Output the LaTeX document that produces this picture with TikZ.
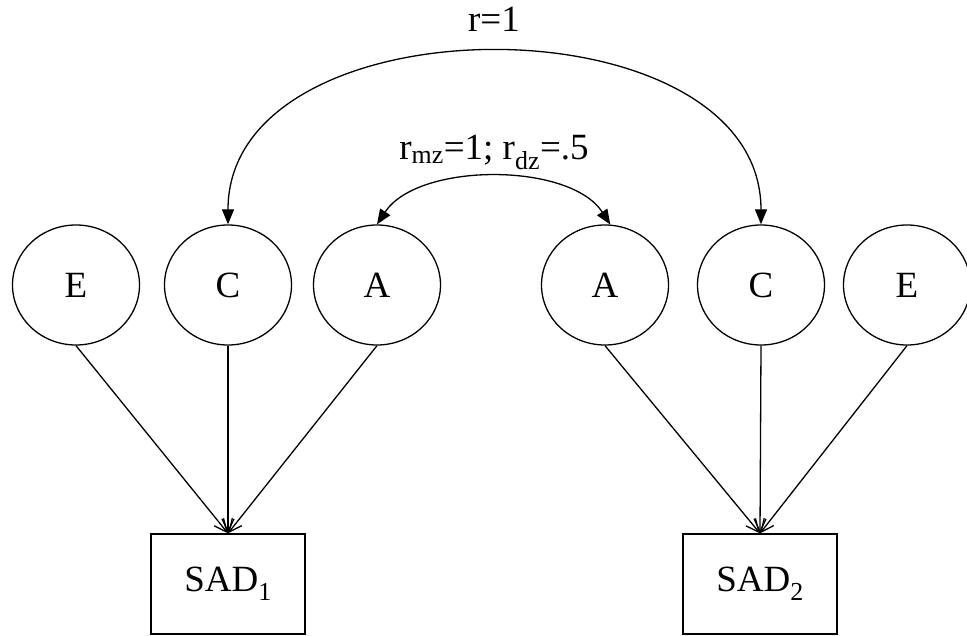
\documentclass[tikz,border=0pt]{standalone}
\usepackage{fontspec}
\setmainfont{Liberation Serif}
\usetikzlibrary{shapes.geometric,arrows.meta}
\begin{document}
\begin{tikzpicture}[x=1pt,y=-1pt,
  line width=1.3pt,
  every node/.style={font=\fontsize{37}{40}\selectfont},
  latent/.style={draw,ellipse,minimum width=127pt,minimum height=120pt,inner sep=0pt},
  observed/.style={draw,rectangle,minimum width=154pt,minimum height=100pt,inner sep=0pt},
  path/.style={-{Straight Barb[length=13pt,width=12pt]}},
  cov/.style={{Triangle[length=15pt,width=12pt]}-{Triangle[length=15pt,width=12pt]}},
  lbl/.style={anchor=base,inner sep=0pt}]
\useasboundingbox (0,0) rectangle (967,636);

% twin 1 factors and phenotype
\node[latent] (E1) at (76,285) {E};
\node[latent] (C1) at (228,285) {C};
\node[latent] (A1) at (377,285) {A};
\node[observed] (S1) at (228,584) {SAD\textsubscript{1}};

% twin 2 factors and phenotype
\node[latent] (A2) at (605,285) {A};
\node[latent] (C2) at (761,285) {C};
\node[latent] (E2) at (907,285) {E};
\node[observed] (S2) at (760,584) {SAD\textsubscript{2}};

% paths from factors to phenotypes
\draw[path] (E1.south) -- (S1.north);
\draw[path] (C1.south) -- (S1.north);
\draw[path] (A1.south) -- (S1.north);
\draw[path] (A2.south) -- (S2.north);
\draw[path] (C2.south) -- (S2.north);
\draw[path] (E2.south) -- (S2.north);

% correlations between twins
\draw[cov] (C1.north) .. controls (228,-4) and (761,-4) .. (C2.north);
\draw[cov] (A1.north) .. controls (418,162) and (570,162) .. (A2.85);

\node[lbl] (r1) at (494,32) {r=1};
\node[lbl] (rad) at (494,160) {r\textsubscript{mz}=1; r\textsubscript{dz}=.5};
\end{tikzpicture}
\end{document}
